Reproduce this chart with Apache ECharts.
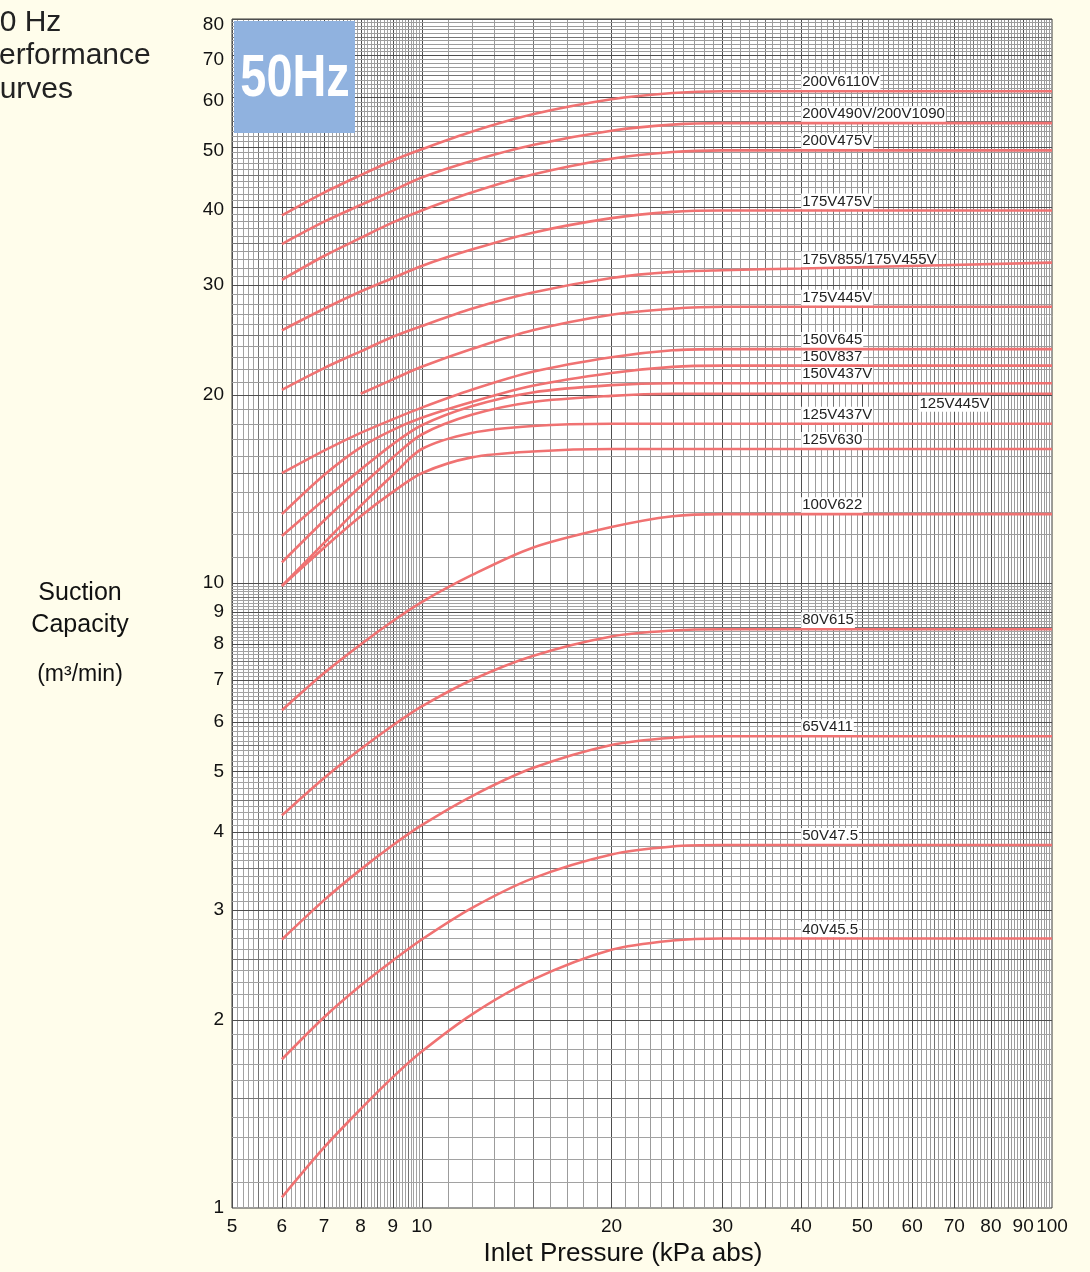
<!DOCTYPE html>
<html><head><meta charset="utf-8">
<script src="https://cdn.jsdelivr.net/npm/echarts@6/dist/echarts.min.js"></script>
<style>html,body{margin:0;padding:0;background:#FFFDEB;overflow:hidden}#c{width:1090px;height:1272px}</style>
</head><body><div id="c"></div>
<script>
// ---------- tick labels ----------
const X_TICKS = [5, 6, 7, 8, 9, 10, 20, 30, 40, 50, 60, 70, 80, 90, 100];
const Y_TICKS = [1, 2, 3, 4, 5, 6, 7, 8, 9, 10, 20, 30, 40, 50, 60, 70, 80];

// ---------- inlet pressure samples (kPa abs) ----------
const PRESSURE = [6, 7, 8, 9, 10, 12, 15, 20, 25, 30, 40, 100];
const PRESSURE_FROM_8 = [8, 9, 10, 12, 15, 20, 25, 30, 40, 100];

// ---------- suction capacity (m3/min) per model ----------
const CAP_200V6110V = [38.8, 42.2, 45.0, 47.5, 49.5, 52.8, 56.3, 59.5, 60.9, 61.3, 61.3, 61.3];
const CAP_200V490V  = [34.9, 37.9, 40.3, 42.5, 44.6, 47.4, 50.3, 53.0, 54.2, 54.5, 54.5, 54.5];
const CAP_200V475V  = [30.6, 33.4, 35.7, 37.8, 39.5, 42.2, 45.1, 47.8, 49.0, 49.3, 49.3, 49.3];
const CAP_175V475V  = [25.4, 27.5, 29.3, 30.8, 32.2, 34.2, 36.4, 38.4, 39.3, 39.5, 39.5, 39.5];
const CAP_175V855   = [20.4, 22.1, 23.5, 24.8, 25.8, 27.5, 29.2, 30.8, 31.5, 31.7, 31.9, 32.6];
const CAP_175V445V  = [20.1, 21.2, 22.2, 23.7, 25.4, 26.9, 27.5, 27.7, 27.7, 27.7];
const CAP_150V645   = [15.0, 16.3, 17.4, 18.3, 19.1, 20.4, 21.8, 23.0, 23.6, 23.7, 23.7, 23.7];
const CAP_150V837   = [12.9, 14.9, 16.5, 17.6, 18.4, 19.5, 20.7, 21.7, 22.2, 22.3, 22.3, 22.3];
const CAP_150V437V  = [11.9, 13.6, 15.2, 16.7, 17.9, 19.2, 20.2, 20.75, 20.9, 20.9, 20.9, 20.9];
const CAP_125V445V  = [10.8, 12.6, 14.3, 15.9, 17.3, 18.6, 19.5, 19.95, 20.1, 20.1, 20.1, 20.1];
const CAP_125V437V  = [9.9, 11.6, 13.3, 14.9, 16.4, 17.4, 17.85, 18.0, 18.0, 18.0, 18.0, 18.0];
const CAP_125V630   = [9.9, 11.4, 12.8, 14.0, 15.0, 15.9, 16.25, 16.4, 16.4, 16.4, 16.4, 16.4];
const CAP_100V622   = [6.26, 7.18, 7.98, 8.70, 9.33, 10.3, 11.4, 12.3, 12.8, 12.9, 12.9, 12.9];
const CAP_80V615    = [4.25, 4.88, 5.43, 5.92, 6.35, 7.00, 7.65, 8.22, 8.40, 8.44, 8.44, 8.44];
const CAP_65V411    = [2.69, 3.11, 3.48, 3.81, 4.10, 4.56, 5.06, 5.51, 5.66, 5.69, 5.69, 5.69];
const CAP_50V47_5   = [1.73, 2.02, 2.27, 2.49, 2.69, 3.02, 3.37, 3.68, 3.79, 3.81, 3.81, 3.81];
const CAP_40V45_5   = [1.04, 1.25, 1.44, 1.62, 1.78, 2.04, 2.32, 2.59, 2.68, 2.70, 2.70, 2.70];

const CURVES = [
  ['200V6110V', PRESSURE, CAP_200V6110V],
  ['200V490V/200V1090', PRESSURE, CAP_200V490V],
  ['200V475V', PRESSURE, CAP_200V475V],
  ['175V475V', PRESSURE, CAP_175V475V],
  ['175V855/175V455V', PRESSURE, CAP_175V855],
  ['175V445V', PRESSURE_FROM_8, CAP_175V445V],
  ['150V645', PRESSURE, CAP_150V645],
  ['150V837', PRESSURE, CAP_150V837],
  ['150V437V', PRESSURE, CAP_150V437V],
  ['125V445V', PRESSURE, CAP_125V445V],
  ['125V437V', PRESSURE, CAP_125V437V],
  ['125V630', PRESSURE, CAP_125V630],
  ['100V622', PRESSURE, CAP_100V622],
  ['80V615', PRESSURE, CAP_80V615],
  ['65V411', PRESSURE, CAP_65V411],
  ['50V47.5', PRESSURE, CAP_50V47_5],
  ['40V45.5', PRESSURE, CAP_40V45_5]
];

// ---------- graph-paper rulings ----------
const X_MIN = 5, X_MAX = 100, Y_MIN = 1, Y_MAX = 80;
const X_RULE = [];
for (let i = 50; i <= 100; i++) X_RULE.push(i / 10);
for (let i = 11; i <= 100; i++) X_RULE.push(i);
const Y_RULE = [];
for (let i = 10; i <= 100; i++) Y_RULE.push(i / 10);
for (let i = 11; i <= 80; i++) Y_RULE.push(i);

function ruleColor(v) {
  const r = Math.round(v * 10);
  if (v < 10) { if (r % 10 === 0) return '#4e4e4e'; if (r % 5 === 0) return '#747474'; return '#a2a2a2'; }
  if (Math.round(v) % 10 === 0) return '#4e4e4e';
  if (Math.round(v) % 5 === 0) return '#747474';
  return '#9c9c9c';
}

const FONT = 'Liberation Sans, Arial, Helvetica, sans-serif';
const LINE_COLOR = '#F07272';
const LABEL_AT = 40;

const series = [];
series.push({
  type: 'custom', silent: true, z: 1, clip: true,
  data: X_RULE.map(v => [v, Y_MIN]),
  renderItem: (p, api) => {
    const v = api.value(0);
    const a = api.coord([v, Y_MIN]), b = api.coord([v, Y_MAX]);
    const x = Math.round(a[0]) + 0.5;
    return { type: 'line', shape: { x1: x, y1: a[1], x2: x, y2: b[1] }, style: { stroke: ruleColor(v), lineWidth: 1 } };
  }
});
series.push({
  type: 'custom', silent: true, z: 1, clip: true,
  data: Y_RULE.map(v => [X_MIN, v]),
  renderItem: (p, api) => {
    const v = api.value(1);
    const a = api.coord([X_MIN, v]), b = api.coord([X_MAX, v]);
    const y = Math.round(a[1]) + 0.5;
    return { type: 'line', shape: { x1: a[0], y1: y, x2: b[0], y2: y }, style: { stroke: ruleColor(v), lineWidth: 1 } };
  }
});

CURVES.forEach(([name, xs, ys]) => {
  const idx = xs.indexOf(LABEL_AT);
  let lx = LABEL_AT, ly = ys[idx], off = [0, -9];
  if (name === '125V445V') { lx = 61.4; ly = ys[ys.length - 1]; off = [0, 10]; }
  series.push({
    type: 'line', name, z: 5,
    data: xs.map((x, i) => [x, ys[i]]),
    smooth: 0.3, showSymbol: false, symbol: 'none',
    lineStyle: { color: LINE_COLOR, width: 2.6 },
    emphasis: { disabled: true },
    markPoint: {
      silent: true, symbol: 'circle', symbolSize: 0,
      data: [{ coord: [lx, ly] }],
      label: {
        show: true, position: 'right', distance: 0, offset: off,
        formatter: name, color: '#222', fontSize: 15, fontFamily: FONT,
        backgroundColor: '#ffffff', padding: [1, 1, 0, 1]
      }
    }
  });
});

const yRich = {};
[[40, 6], [50, 8], [60, 7], [70, 10], [80, 12]].forEach(([v, pad]) => {
  yRich['d' + v] = { fontSize: 19, color: '#111', fontFamily: FONT, padding: [pad, 0, 0, 0] };
});

const chart = echarts.init(document.getElementById('c'), null, { renderer: 'canvas' });
chart.setOption({
  animation: false,
  backgroundColor: '#FFFDEB',
  grid: { left: 232, right: 38, top: 19, bottom: 64, show: true, backgroundColor: '#ffffff', borderColor: '#3a3a3a', borderWidth: 1 },
  xAxis: {
    type: 'log', logBase: 10, min: X_MIN, max: X_MAX,
    name: 'Inlet Pressure (kPa abs)', nameLocation: 'middle', nameGap: 33,
    nameTextStyle: { fontSize: 26, color: '#111', fontFamily: FONT, padding: [0, 38, 0, 0] },
    axisLine: { show: false }, axisTick: { show: false }, splitLine: { show: false }, minorSplitLine: { show: false },
    axisLabel: { customValues: X_TICKS, fontSize: 19, color: '#111', fontFamily: FONT, margin: 9, formatter: v => String(Math.round(v)) }
  },
  yAxis: {
    type: 'log', logBase: 10, min: Y_MIN, max: Y_MAX,
    axisLine: { show: false }, axisTick: { show: false }, splitLine: { show: false },
    axisLabel: {
      customValues: Y_TICKS, fontSize: 19, color: '#111', fontFamily: FONT, margin: 8,
      formatter: v => { const r = Math.round(v); return yRich['d' + r] ? '{d' + r + '|' + r + '}' : String(r); },
      rich: yRich
    }
  },
  graphic: [
    { type: 'text', z: 10, style: { x: -17, y: 23, text: '50 Hz', font: '30px ' + FONT, fill: '#222', verticalAlign: 'middle' } },
    { type: 'text', z: 10, style: { x: -21, y: 56, text: 'Performance', font: '30px ' + FONT, fill: '#222', verticalAlign: 'middle' } },
    { type: 'text', z: 10, style: { x: -22, y: 90, text: 'Curves', font: '30px ' + FONT, fill: '#222', verticalAlign: 'middle' } },
    { type: 'text', z: 10, style: { x: 80, y: 593, text: 'Suction', font: '25px ' + FONT, fill: '#111', align: 'center', verticalAlign: 'middle' } },
    { type: 'text', z: 10, style: { x: 80, y: 625, text: 'Capacity', font: '25px ' + FONT, fill: '#111', align: 'center', verticalAlign: 'middle' } },
    { type: 'text', z: 10, style: { x: 80, y: 675, text: '(m³/min)', font: '23px ' + FONT, fill: '#111', align: 'center', verticalAlign: 'middle' } },
    { type: 'rect', z: 20, shape: { x: 234, y: 21, width: 121, height: 112 }, style: { fill: '#90B2DF' } },
    { type: 'text', z: 21, x: 295, y: 79, scaleX: 0.78, style: { x: 0, y: 0, text: '50Hz', font: 'bold 60px ' + FONT, fill: '#ffffff', align: 'center', verticalAlign: 'middle' } }
  ],
  series
});
</script></body></html>
